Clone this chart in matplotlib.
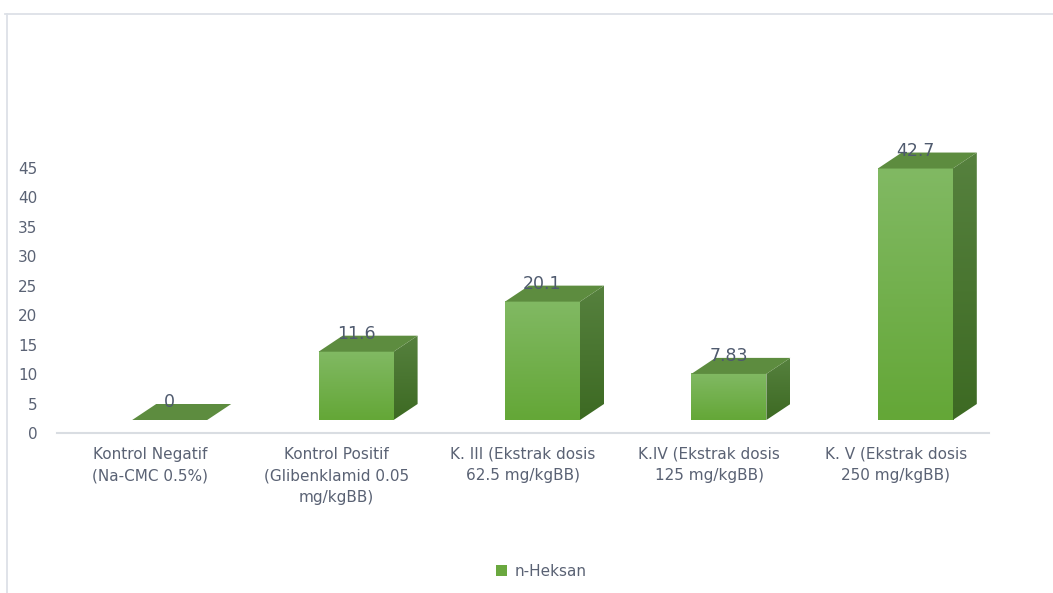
import matplotlib.pyplot as plt
import numpy as np
from matplotlib.colors import LinearSegmentedColormap
from matplotlib.patches import Patch, Polygon
from matplotlib.lines import Line2D

# data
kategori = [
    "Kontrol Negatif\n(Na-CMC 0.5%)",
    "Kontrol Positif\n(Glibenklamid 0.05\nmg/kgBB)",
    "K. III (Ekstrak dosis\n62.5 mg/kgBB)",
    "K.IV (Ekstrak dosis\n125 mg/kgBB)",
    "K. V (Ekstrak dosis\n250 mg/kgBB)",
]
nilai = [0, 11.6, 20.1, 7.83, 42.7]
label_nilai = ["0", "11.6", "20.1", "7.83", "42.7"]
y_ticks = [0, 5, 10, 15, 20, 25, 30, 35, 40, 45]
seri = "n-Heksan"

plt.rcParams["font.family"] = ["DejaVu Sans"]
teks = "#5a6274"

W, H = 1053, 593
fig = plt.figure(figsize=(W / 100, H / 100), dpi=100)

# axes geometry in pixels
ax_left, ax_right, ax_base = 57, 989, 433
px_per_unit = 5.889
ymax = 50
ax_h = ymax * px_per_unit
ax = fig.add_axes([ax_left / W, (H - ax_base) / H, (ax_right - ax_left) / W, ax_h / H])

# pixel -> data conversion
ux = (ax_right - ax_left) / len(nilai)
uy = px_per_unit
def px(dx, dy):
    return dx / ux, dy / uy

off_l, face_w = px(-18, 0)[0], px(75, 0)[0]
depth_x, depth_y = px(24, 16)
base = px(0, 13)[1]

front_cmap = LinearSegmentedColormap.from_list("f", ["#64a737", "#81b963"])
side_cmap = LinearSegmentedColormap.from_list("s", ["#3d6a23", "#56813e"])
grad = np.linspace(0, 1, 100).reshape(-1, 1)

for i, v in enumerate(nilai):
    x0 = i + off_l
    x1 = x0 + face_w
    y0 = base
    y1 = base + v
    # top face
    top = Polygon([(x0, y1), (x1, y1), (x1 + depth_x, y1 + depth_y), (x0 + depth_x, y1 + depth_y)],
                  closed=True, facecolor="#5d8c3f", edgecolor="none", zorder=3)
    ax.add_patch(top)
    if v > 0:
        # front face
        ax.imshow(grad, extent=[x0, x1, y0, y1], origin="lower", aspect="auto",
                  cmap=front_cmap, zorder=2)
        # side face
        side = Polygon([(x1, y0), (x1 + depth_x, y0 + depth_y), (x1 + depth_x, y1 + depth_y), (x1, y1)],
                       closed=True, facecolor="none", edgecolor="none")
        ax.add_patch(side)
        im = ax.imshow(grad, extent=[x1, x1 + depth_x, y0, y1 + depth_y], origin="lower",
                       aspect="auto", cmap=side_cmap, zorder=2)
        im.set_clip_path(side)
    ax.text((x0 + x1) / 2, y1 + depth_y + 0.3, label_nilai[i], ha="center", va="center",
            fontsize=12.5, color="#4f5a6e", zorder=5)

ax.set_xlim(-0.5, len(nilai) - 0.5)
ax.set_ylim(0, ymax)

ax.set_yticks(y_ticks)
ax.set_yticklabels([str(t) for t in y_ticks], fontsize=11, color=teks)
ax.set_xticks(range(len(kategori)))
ax.set_xticklabels(kategori, fontsize=11, color=teks, linespacing=1.55, va="top")
ax.tick_params(axis="both", length=0)
ax.tick_params(axis="y", pad=14)
ax.tick_params(axis="x", pad=10)
for s in ["top", "right", "left"]:
    ax.spines[s].set_visible(False)
ax.spines["bottom"].set_color("#d9dde2")
ax.spines["bottom"].set_linewidth(1.5)

# outer frame (only top and left visible)
fig.add_artist(Line2D([5 / W, 1], [1 - 14 / H, 1 - 14 / H], color="#dde1e7", lw=1.3))
fig.add_artist(Line2D([7 / W, 7 / W], [0, 1 - 14 / H], color="#dde1e7", lw=1.3))

fig.legend(handles=[Patch(facecolor="#6aa83f", label=seri)], loc="center",
           bbox_to_anchor=(541 / W, 1 - 571 / H), frameon=False, fontsize=11,
           handlelength=0.7, handleheight=0.7, handletextpad=0.5, labelcolor=teks)

fig.savefig("out.png", dpi=100)
